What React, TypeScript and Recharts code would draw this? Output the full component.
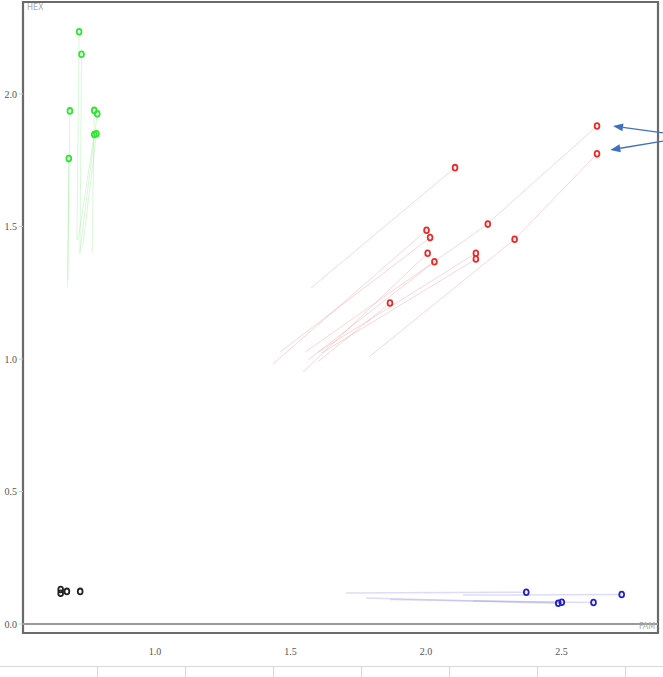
import React from 'react';
import { ScatterChart, Scatter, XAxis, YAxis, ReferenceLine, ReferenceArea } from 'recharts';

// Data (FAM on x, HEX on y). x0/y0 = start of the faint trail, x/y = current position.
const greenPoints = [
  { x: 0.720, y: 2.235, x0: 0.712, y0: 1.449 },
  { x: 0.729, y: 2.150, x0: 0.723, y0: 1.392 },
  { x: 0.686, y: 1.936, x0: 0.677, y0: 1.272 },
  { x: 0.776, y: 1.938, x0: 0.768, y0: 1.400 },
  { x: 0.787, y: 1.925, x0: 0.723, y0: 1.404 },
  { x: 0.776, y: 1.847, x0: 0.716, y0: 1.449 },
  { x: 0.784, y: 1.850, x0: 0.734, y0: 1.430 },
  { x: 0.682, y: 1.756, x0: 0.679, y0: 1.298 },
];

const redPoints = [
  { x: 2.107, y: 1.722, x0: 1.576, y0: 1.268 },
  { x: 2.631, y: 1.879, x0: 2.225, y0: 1.509 },
  { x: 2.631, y: 1.774, x0: 2.328, y0: 1.453 },
  { x: 2.228, y: 1.509, x0: 1.554, y0: 1.026 },
  { x: 2.002, y: 1.486, x0: 1.435, y0: 0.981 },
  { x: 2.015, y: 1.458, x0: 1.461, y0: 1.026 },
  { x: 2.327, y: 1.452, x0: 1.790, y0: 1.008 },
  { x: 2.006, y: 1.399, x0: 1.546, y0: 0.951 },
  { x: 2.184, y: 1.399, x0: 1.601, y0: 1.026 },
  { x: 2.184, y: 1.377, x0: 1.616, y0: 1.023 },
  { x: 2.031, y: 1.367, x0: 1.565, y0: 0.996 },
  { x: 1.867, y: 1.211, x0: 1.601, y0: 0.989 },
];

const bluePoints = [
  { x: 2.370, y: 0.120, x0: 1.705, y0: 0.117 },
  { x: 2.722, y: 0.111, x0: 2.137, y0: 0.109 },
  { x: 2.488, y: 0.078, x0: 1.779, y0: 0.098 },
  { x: 2.501, y: 0.082, x0: 1.867, y0: 0.092 },
  { x: 2.618, y: 0.081, x0: 2.173, y0: 0.087 },
];

const blackPoints = [
  { x: 0.652, y: 0.130 },
  { x: 0.652, y: 0.116 },
  { x: 0.675, y: 0.123 },
  { x: 0.724, y: 0.123 },
];

// annotation arrows: [tail, head]
const arrows = [
  [{ x: 2.876, y: 1.853 }, { x: 2.690, y: 1.879 }],
  [{ x: 2.876, y: 1.822 }, { x: 2.680, y: 1.789 }],
];

const xTicks = [1.0, 1.5, 2.0, 2.5];
const yTicks = [0.0, 0.5, 1.0, 1.5, 2.0];
const xDomain = [0.513, 2.856];
const yDomain = [-0.034, 2.347];
const tableCols = [97, 185, 273, 361, 449, 537, 625];

const ring = (color: string) => (props: any) => {
  const { cx, cy } = props;
  if (cx == null || cy == null) return <g />;
  return <ellipse cx={cx} cy={cy} rx={2.4} ry={2.9} fill="none" stroke={color} strokeWidth={1.8} />;
};

const arrowShape = (props: any) => {
  const { x1, y1, x2, y2 } = props;
  if ([x1, y1, x2, y2].some((v) => v == null || isNaN(v))) return <g />;
  const ang = Math.atan2(y2 - y1, x2 - x1);
  const len = 10;
  const w = 4;
  const bx = x2 - len * Math.cos(ang);
  const by = y2 - len * Math.sin(ang);
  const px = -Math.sin(ang) * w;
  const py = Math.cos(ang) * w;
  return (
    <g>
      <line x1={x1} y1={y1} x2={bx} y2={by} stroke="#3f6fbf" strokeWidth={1.3} />
      <polygon points={`${x2},${y2} ${bx + px},${by + py} ${bx - px},${by - py}`} fill="#3f6fbf" />
    </g>
  );
};

const fmt = (v: number) => v.toFixed(1);

export default function App() {
  return (
    <div style={{ position: 'absolute', left: 0, top: 0, width: 663, height: 677, background: '#fff' }}>
      <svg width={663} height={677} style={{ position: 'absolute', left: 0, top: 0 }}>
        <line x1={0} y1={666.5} x2={663} y2={666.5} stroke="#d8d8d8" strokeWidth={1} />
        {tableCols.map((c) => (
          <line key={c} x1={c + 0.5} y1={666} x2={c + 0.5} y2={677} stroke="#d8d8d8" strokeWidth={1} />
        ))}
      </svg>
      <div style={{ position: 'absolute', left: 0, top: 0 }}>
        <ScatterChart width={663} height={677} margin={{ top: 2, right: 5, bottom: 0, left: 0 }}>
          <XAxis
            type="number"
            dataKey="x"
            domain={xDomain}
            ticks={xTicks}
            tickFormatter={fmt}
            axisLine={false}
            tickLine={false}
            tickSize={13}
            height={44}
            allowDataOverflow
            tick={{ fontSize: 10, fill: '#555', fontFamily: 'Liberation Serif, serif' }}
          />
          <YAxis
            type="number"
            dataKey="y"
            domain={yDomain}
            ticks={yTicks}
            tickFormatter={fmt}
            width={23}
            axisLine={false}
            tickSize={4}
            tickLine={{ stroke: '#ccc' }}
            allowDataOverflow
            tick={{ fontSize: 10, fill: '#555', fontFamily: 'Liberation Serif, serif' }}
          />
          {greenPoints.map((p, i) => (
            <ReferenceLine key={'g' + i} segment={[{ x: p.x0, y: p.y0 }, { x: p.x, y: p.y }]} stroke="#7fe87f" strokeOpacity={0.3} strokeWidth={1} />
          ))}
          {redPoints.map((p, i) => (
            <ReferenceLine key={'r' + i} segment={[{ x: p.x0, y: p.y0 }, { x: p.x, y: p.y }]} stroke="#f29a9a" strokeOpacity={0.4} strokeWidth={1} />
          ))}
          {bluePoints.map((p, i) => (
            <ReferenceLine key={'b' + i} segment={[{ x: p.x0, y: p.y0 }, { x: p.x, y: p.y }]} stroke="#a8a8f0" strokeOpacity={0.4} strokeWidth={1.5} />
          ))}
          <ReferenceArea x1={xDomain[0]} x2={xDomain[1]} y1={yDomain[0]} y2={yDomain[1]} fill="none" stroke="#6a6a6a" strokeWidth={2.2} ifOverflow="visible" />
          <ReferenceLine y={0} stroke="#9a9a9a" strokeWidth={2} />
          <Scatter data={greenPoints} shape={ring('#2ee62e')} isAnimationActive={false} />
          <Scatter data={redPoints} shape={ring('#e82a2a')} isAnimationActive={false} />
          <Scatter data={bluePoints} shape={ring('#2020c8')} isAnimationActive={false} />
          <Scatter data={blackPoints} shape={ring('#222222')} isAnimationActive={false} />
          {arrows.map((a, i) => (
            <ReferenceLine key={'a' + i} segment={a} ifOverflow="visible" shape={arrowShape} />
          ))}
        </ScatterChart>
      </div>
      <div style={{ position: 'absolute', left: 27, top: 3, fontSize: 8, color: '#aaa', fontFamily: 'DejaVu Sans, sans-serif' }}>HEX</div>
      <div style={{ position: 'absolute', left: 639, top: 622, fontSize: 8, color: '#aaa', fontFamily: 'DejaVu Sans, sans-serif' }}>FAM</div>
    </div>
  );
}
